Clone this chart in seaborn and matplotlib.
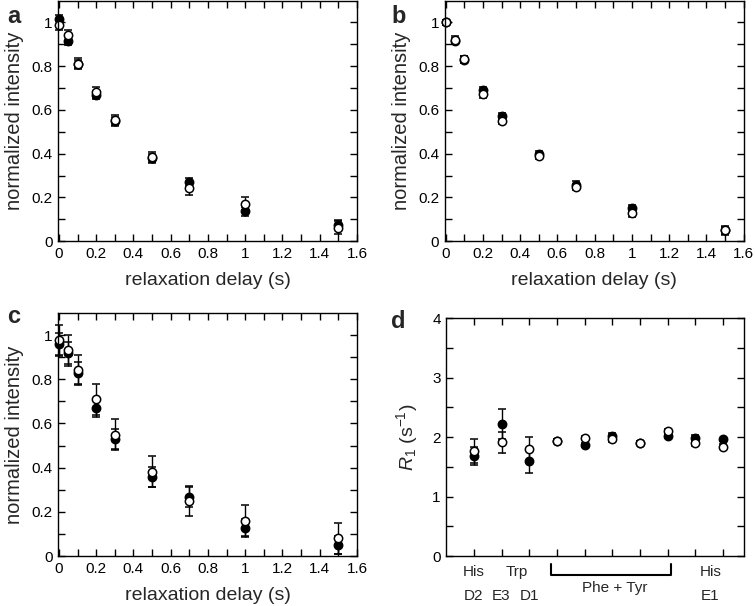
"""
T1 relaxation decays (a-c) and R1 rates per residue (d)
"""
import numpy as np
import matplotlib
matplotlib.use("Agg")
import matplotlib.pyplot as plt
import matplotlib.ticker as mticker
import matplotlib.transforms as mtrans
import seaborn as sns

sns.set_style("ticks")
plt.rcParams['font.family'] = ['Liberation Sans', 'DejaVu Sans']
plt.rcParams['mathtext.fontset'] = 'custom'
plt.rcParams['mathtext.rm'] = 'Liberation Sans'
plt.rcParams['mathtext.it'] = 'Liberation Sans:italic'

# relaxation delays (s)
delay = [0, 0.05, 0.1, 0.2, 0.3, 0.5, 0.7, 1.0, 1.5]

# panel a
a_filled = [1.015, 0.916, 0.81, 0.668, 0.55, 0.38, 0.271, 0.137, 0.076]
a_filled_err = [0.02, 0.02, 0.02, 0.02, 0.02, 0.02, 0.02, 0.02, 0.02]
a_open = [0.99, 0.942, 0.812, 0.68, 0.552, 0.383, 0.241, 0.172, 0.061]
a_open_err = [0.025, 0.025, 0.025, 0.025, 0.025, 0.025, 0.03, 0.03, 0.03]

# panel b
b_filled = [1.0, 0.915, 0.83, 0.69, 0.572, 0.398, 0.259, 0.152, 0.05]
b_filled_err = [0.01, 0.015, 0.015, 0.015, 0.015, 0.015, 0.015, 0.015, 0.015]
b_open = [1.0, 0.922, 0.831, 0.671, 0.55, 0.39, 0.248, 0.127, 0.05]
b_open_err = [0.01, 0.015, 0.015, 0.015, 0.015, 0.015, 0.015, 0.015, 0.02]

# panel c
c_filled = [0.96, 0.92, 0.83, 0.668, 0.528, 0.359, 0.268, 0.128, 0.05]
c_filled_err = [0.05, 0.05, 0.05, 0.04, 0.045, 0.045, 0.045, 0.04, 0.04]
c_open = [0.977, 0.932, 0.842, 0.709, 0.55, 0.382, 0.249, 0.16, 0.08]
c_open_err = [0.07, 0.07, 0.07, 0.07, 0.07, 0.07, 0.07, 0.07, 0.07]

# panel d
residue_pos = [1, 2, 3, 4, 5, 6, 7, 8, 9, 10]
d_filled = [1.68, 2.22, 1.59, 1.94, 1.87, 2.02, 1.90, 2.01, 1.99, 1.96]
d_filled_err = [0.15, 0.25, 0.2, 0.03, 0.03, 0.05, 0.03, 0.03, 0.05, 0.03]
d_open = [1.76, 1.91, 1.80, 1.94, 1.99, 1.97, 1.90, 2.10, 1.90, 1.84]
d_open_err = [0.2, 0.18, 0.2, 0.03, 0.03, 0.06, 0.04, 0.03, 0.05, 0.04]

fig = plt.figure(figsize=(7.55, 6.06), dpi=100)
ax_a = fig.add_axes([0.0768, 0.602, 0.396, 0.397])
ax_b = fig.add_axes([0.589, 0.602, 0.396, 0.397])
ax_c = fig.add_axes([0.0768, 0.0825, 0.396, 0.401])
ax_d = fig.add_axes([0.591, 0.0825, 0.394, 0.3925])

fmt = mticker.FuncFormatter(lambda v, p: "%g" % round(v, 2))


def draw_points(ax, x, yf, ef, yo, eo):
    for y, e, face in [(yf, ef, 'black'), (yo, eo, 'white')]:
        cont = ax.errorbar(x, y, yerr=e, fmt='o', color='black', mfc=face, mec='black',
                           mew=1.1, ms=6, elinewidth=1, capsize=3, capthick=1)
        for art in cont.get_children():
            art.set_clip_on(False)


def style_axis(ax):
    for s in ax.spines.values():
        s.set_visible(True)
        s.set_linewidth(1)
        s.set_color('black')
    ax.tick_params(which='both', direction='in', top=True, right=True,
                   length=5, width=1, labelsize=11, pad=4, colors='black')


decays = [(ax_a, a_filled, a_filled_err, a_open, a_open_err),
          (ax_b, b_filled, b_filled_err, b_open, b_open_err),
          (ax_c, c_filled, c_filled_err, c_open, c_open_err)]
for ax, yf, ef, yo, eo in decays:
    draw_points(ax, delay, yf, ef, yo, eo)
    style_axis(ax)
    ax.set_xlim(-0.005, 1.6)
    ax.set_ylim(0, 1.1)
    ax.xaxis.set_major_locator(mticker.MultipleLocator(0.2))
    ax.xaxis.set_minor_locator(mticker.MultipleLocator(0.1))
    ax.yaxis.set_major_locator(mticker.FixedLocator([0, 0.2, 0.4, 0.6, 0.8, 1.0]))
    ax.yaxis.set_minor_locator(mticker.FixedLocator(np.arange(0.1, 1.1, 0.2)))
    ax.xaxis.set_major_formatter(fmt)
    ax.yaxis.set_major_formatter(fmt)
    ax.set_xlabel("relaxation delay (s)", fontsize=14, labelpad=8)
    ax.set_ylabel("normalized intensity", fontsize=14.5, labelpad=5)

# panel d
draw_points(ax_d, residue_pos, d_filled, d_filled_err, d_open, d_open_err)
style_axis(ax_d)
ax_d.set_xlim(0, 10.75)
ax_d.set_ylim(0, 4)
ax_d.xaxis.set_major_locator(mticker.FixedLocator(residue_pos))
ax_d.xaxis.set_major_formatter(mticker.NullFormatter())
ax_d.yaxis.set_major_locator(mticker.MultipleLocator(1))
ax_d.yaxis.set_minor_locator(mticker.MultipleLocator(0.5))
ax_d.set_ylabel(r"$R_1$ (s$^{-1}$)", fontsize=14, labelpad=9)

tr = mtrans.blended_transform_factory(ax_d.transData, ax_d.transAxes)
lab_kw = dict(transform=tr, ha='center', va='center', fontsize=11, clip_on=False)
ax_d.text(1, -0.067, "His", **lab_kw)
ax_d.text(2.55, -0.067, "Trp", **lab_kw)
ax_d.text(9.55, -0.067, "His", **lab_kw)
ax_d.text(1, -0.168, "D2", **lab_kw)
ax_d.text(2, -0.168, "E3", **lab_kw)
ax_d.text(3, -0.168, "D1", **lab_kw)
ax_d.text(9.55, -0.168, "E1", **lab_kw)
ax_d.text(6.1, -0.134, "Phe + Tyr", **lab_kw)
ax_d.plot([3.78, 3.78, 8.14, 8.14], [-0.034, -0.08, -0.08, -0.034], color='black',
          lw=1.5, transform=tr, clip_on=False)

# panel letters
for letter, (x, y) in zip("abcd", [(0.009, 0.973), (0.518, 0.973), (0.009, 0.477), (0.518, 0.47)]):
    fig.text(x, y, letter, fontsize=17, fontweight='bold', ha='left', va='center')

plt.savefig("out.png", dpi=100)
